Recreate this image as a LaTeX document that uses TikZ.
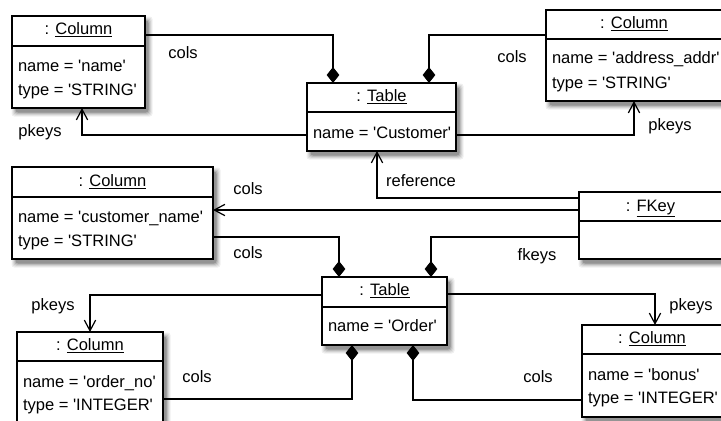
\documentclass[tikz,border=0pt]{standalone}
\usepackage{fontspec}
\setmainfont{Liberation Sans}
\usetikzlibrary{arrows.meta}
\newcommand\sq{\textquotesingle}
% object box with a soft shadow: nested grey rectangles (light outside,
% dark inside) drawn first, then the white box itself.
% #1 name, #2 left, #3 top, #4 width, #5 height
\newcommand\objbox[5]{%
  \foreach \dd/\cc in {4/6,3/12,2/20,1/30,0/42}{
    \fill[black!\cc, rounded corners=2pt]
      ({#2+3.5-\dd},{#3+4.5-\dd}) rectangle ({#2+#4+3.5+\dd},{#3+#5+4.5+\dd});
  }
  \node[obj, sz={#4}{#5}] (#1) at (#2,#3) {};}

\begin{document}
\begin{tikzpicture}[x=0.75pt,y=-0.75pt,
  every node/.style={font=\fontsize{12.4pt}{15pt}\selectfont, inner sep=0pt, outer sep=0pt},
  sz/.style 2 args={minimum width=#1*0.75pt, minimum height=#2*0.75pt},
  obj/.style={draw=black, line width=1.1pt, fill=white, anchor=north west},
  divider/.style={line width=1.1pt},
  txt/.style={text height=0.7em, text depth=0.2em},
  attr/.style={txt, anchor=west, xshift=4.5pt},
  link/.style={line width=0.9pt},
  comp/.style={link, {Diamond[length=12pt,width=9.5pt]}-},
  assoc/.style={link, -{Straight Barb[length=8pt,width=8.5pt]}},
]
\useasboundingbox (0,0) rectangle (721,421);

% ---- object boxes ----
% Column 'name'
\objbox{c1}{12}{16}{133}{92}
\draw[divider] (c1.west |- 0,46) -- (c1.east |- 0,46);
\node[txt] (c1t) at (c1.north |- 0,31) {: \underline{Column}};
\node[attr] (c1a) at (c1.west |- 0,68) {name = \sq name\sq};
\node[attr] (c1b) at (c1.west |- 0,92) {type = \sq STRING\sq};

% Column 'address_addr'
\objbox{c2}{546}{10}{176}{91}
\draw[divider] (c2.west |- 0,39) -- (c2.east |- 0,39);
\node[txt] (c2t) at (c2.north |- 0,25) {: \underline{Column}};
\node[attr] (c2a) at (c2.west |- 0,60) {name = \sq address\_addr\sq};
\node[attr] (c2b) at (c2.west |- 0,85) {type = \sq STRING\sq};

% Table 'Customer'
\objbox{t1}{307}{83}{149}{68}
\draw[divider] (t1.west |- 0,112) -- (t1.east |- 0,112);
\node[txt] (t1t) at (t1.north |- 0,98) {: \underline{Table}};
\node[attr] (t1a) at (t1.west |- 0,135) {name = \sq Customer\sq};

% Column 'customer_name'
\objbox{c3}{12}{167}{201}{92}
\draw[divider] (c3.west |- 0,197) -- (c3.east |- 0,197);
\node[txt] (c3t) at (c3.north |- 0,183) {: \underline{Column}};
\node[attr] (c3a) at (c3.west |- 0,219) {name = \sq customer\_name\sq};
\node[attr] (c3b) at (c3.west |- 0,243) {type = \sq STRING\sq};

% FKey
\objbox{fk}{579}{192}{143}{67}
\draw[divider] (fk.west |- 0,221) -- (fk.east |- 0,221);
\node[txt] (fkt) at (fk.north |- 0,208) {: \underline{FKey}};

% Table 'Order'
\objbox{t2}{322}{277}{125}{68}
\draw[divider] (t2.west |- 0,307) -- (t2.east |- 0,307);
\node[txt] (t2t) at (t2.north |- 0,292) {: \underline{Table}};
\node[attr] (t2a) at (t2.west |- 0,328) {name = \sq Order\sq};

% Column 'order_no'
\objbox{c4}{17}{332}{146}{100}
\draw[divider] (c4.west |- 0,361) -- (c4.east |- 0,361);
\node[txt] (c4t) at (c4.north |- 0,347) {: \underline{Column}};
\node[attr] (c4a) at (c4.west |- 0,384) {name = \sq order\_no\sq};
\node[attr] (c4b) at (c4.west |- 0,407) {type = \sq INTEGER\sq};

% Column 'bonus'
\objbox{c5}{582}{325}{140}{92}
\draw[divider] (c5.west |- 0,354) -- (c5.east |- 0,354);
\node[txt] (c5t) at (c5.north |- 0,340) {: \underline{Column}};
\node[attr] (c5a) at (c5.west |- 0,377) {name = \sq bonus\sq};
\node[attr] (c5b) at (c5.west |- 0,400) {type = \sq INTEGER\sq};

% ---- links ----
\draw[comp]  (t1.north -| 333,0) |- (c1.east |- 0,35);
\draw[comp]  (t1.north -| 429,0) |- (c2.west |- 0,35);
\draw[assoc] (t1.west |- 0,135) -| (c1.south -| 82,0);
\draw[assoc] (t1.east |- 0,135) -| (c2.south -| 634,0);
\draw[assoc] (fk.west |- 0,198) -| (t1.south -| 377,0);
\draw[assoc] (fk.west |- 0,210) -- (c3.east |- 0,210);
\draw[comp]  (t2.north -| 339,0) |- (c3.east |- 0,237);
\draw[comp]  (t2.north -| 431,0) |- (fk.west |- 0,237);
\draw[assoc] (t2.west |- 0,295) -| (c4.north -| 90,0);
\draw[assoc] (t2.east |- 0,294) -| (c5.north -| 655,0);
\draw[comp]  (t2.south -| 352,0) |- (c4.east |- 0,399);
\draw[comp]  (t2.south -| 413,0) |- (c5.west |- 0,400);

% ---- role labels ----
\node[txt] (l1)  at (183,55)  {cols};
\node[txt] (l2)  at (512,59)  {cols};
\node[txt] (l3)  at (40,133)  {pkeys};
\node[txt] (l4)  at (670,127) {pkeys};
\node[txt] (l5)  at (421,183) {reference};
\node[txt] (l6)  at (248,191) {cols};
\node[txt] (l7)  at (248,255) {cols};
\node[txt] (l8)  at (537,257) {fkeys};
\node[txt] (l9)  at (53,307)  {pkeys};
\node[txt] (l10) at (197,379) {cols};
\node[txt] (l11) at (691,307) {pkeys};
\node[txt] (l12) at (538,379) {cols};
\end{tikzpicture}
\end{document}
